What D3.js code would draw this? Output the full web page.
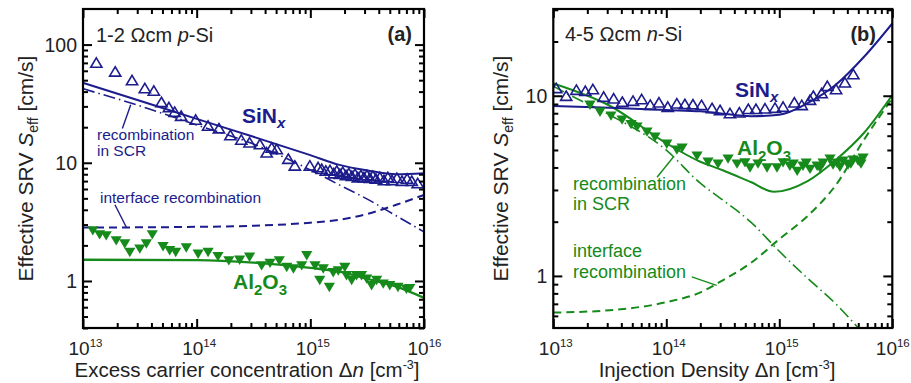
<!DOCTYPE html>
<html><head><meta charset="utf-8">
<script src="https://cdn.jsdelivr.net/npm/d3@7"></script>
<style>body{margin:0;background:#fff} svg{display:block;font-family:"Liberation Sans",Arial,Helvetica,sans-serif}</style>
</head><body><svg id="c" width="911" height="383"></svg>
<script>
// ---------------- DATA ----------------
const xTickValues = [1e13, 1e14, 1e15, 1e16];
const xTickExponents = ["13", "14", "15", "16"];
const xMinorTicks = [2e13,3e13,4e13,5e13,6e13,7e13,8e13,9e13,2e14,3e14,4e14,5e14,6e14,7e14,8e14,9e14,2e15,3e15,4e15,5e15,6e15,7e15,8e15,9e15];
const yTicksA = [1, 10, 100];
const yTickLabelsA = ["1", "10", "100"];
const yMinorA = [0.4,0.5,0.6,0.7,0.8,0.9,2,3,4,5,6,7,8,9,20,30,40,50,60,70,80,90];
const yTicksB = [1, 10];
const yTickLabelsB = ["1", "10"];
const yMinorB = [0.6,0.7,0.8,0.9,2,3,4,5,6,7,8,9,20,30];

// Panel (a): 1-2 Ohm cm p-Si  [Δn (cm^-3), S_eff (cm/s)]
const aSiNxMeas = [[1.31e13,69],[1.92e13,58],[2.7e13,49],[3.5e13,42],[4.2e13,40],[4.9e13,32],[5.7e13,29],[6.4e13,26.5],[7.3e13,24.5],[9.8e13,22.7],[1.26e14,20.2],[1.57e14,19.2],[1.98e14,16.8],[2.47e14,15.4],[2.92e14,14.6],[3.6e14,14.1],[4.13e14,12.0],[4.57e14,13.2],[5.06e14,12.8],[6.4e14,10.6],[7.3e14,9.3],[9.9e14,9.3],[1.17e15,9.0],[1.26e15,8.7],[1.37e15,8.4],[1.49e15,8.5],[1.61e15,8.0],[1.71e15,8.4],[1.82e15,7.9],[1.93e15,8.2],[2.06e15,7.7],[2.18e15,8.0],[2.32e15,7.6],[2.47e15,7.9],[2.62e15,7.4],[2.79e15,7.7],[2.96e15,7.4],[3.15e15,7.7],[3.34e15,7.3],[3.55e15,7.6],[3.78e15,7.2],[4.09e15,7.4],[4.44e15,7.0],[4.81e15,7.4],[5.22e15,7.0],[5.78e15,7.3],[6.4e15,6.9],[7.1e15,7.2],[7.8e15,6.9],[8.8e15,6.6]];
const aAl2O3Meas = [[1.22e13,2.71],[1.40e13,2.51],[1.60e13,2.46],[1.96e13,2.23],[2.33e13,2.10],[2.58e13,1.78],[3.16e13,1.90],[3.61e13,2.10],[4.07e13,2.51],[5.06e13,1.99],[5.79e13,1.84],[6.54e13,1.78],[8.1e13,1.94],[1.03e14,1.72],[1.26e14,1.78],[1.54e14,1.64],[1.92e14,1.51],[2.39e14,1.53],[2.92e14,1.62],[3.73e14,1.37],[4.42e14,1.44],[5.33e14,1.51],[6.2e14,1.33],[7.1e14,1.29],[8.4e14,1.37],[9.3e14,1.67],[1.10e15,1.37],[1.21e15,1.03],[1.30e15,1.29],[1.47e15,0.90],[1.59e15,1.20],[1.76e15,1.24],[2.01e15,1.33],[2.08e15,1.13],[2.31e15,1.03],[2.55e15,1.13],[2.82e15,1.13],[3.13e15,1.06],[3.46e15,0.93],[3.83e15,1.03],[4.38e15,0.96],[5.0e15,0.93],[5.9e15,0.90],[7.0e15,0.87],[7.5e15,0.88]];
const aSiNxFit = [[1e13,47.4],[3.16e13,33.5],[1e14,23.5],[3.16e14,16.6],[1e15,11.6],[1.8e15,9.6],[3.2e15,8.6],[5.7e15,8.0],[1e16,8.15]];
const aSCR = [[1e13,42.3],[3.16e13,30.3],[1e14,20.9],[3.16e14,14.4],[1e15,8.7],[1.8e15,6.5],[3.2e15,4.9],[5.7e15,3.56],[1e16,2.6]];
const aInterface = [[1e13,2.83],[1e14,2.87],[3.16e14,2.93],[1e15,3.11],[1.8e15,3.29],[3.2e15,3.7],[5.7e15,4.41],[1e16,5.35]];
const aAl2O3Fit = [[1e13,1.51],[1e14,1.50],[3.16e14,1.43],[1e15,1.29],[1.8e15,1.2],[3.2e15,1.04],[5.7e15,0.895],[1e16,0.72]];

// Panel (b): 4-5 Ohm cm n-Si
const bSiNxMeas = [[1.06e13,10.9],[1.30e13,9.87],[1.60e13,10.66],[1.92e13,10.5],[2.24e13,10.75],[2.79e13,9.75],[3.42e13,9.55],[4.08e13,9.14],[5.07e13,9.26],[6.05e13,9.46],[7.21e13,8.80],[8.61e13,9.07],[1.03e14,8.58],[1.24e14,8.96],[1.46e14,8.88],[1.72e14,8.85],[2.05e14,8.77],[2.54e14,8.44],[2.99e14,8.22],[3.66e14,7.91],[4.43e14,7.98],[5.32e14,8.34],[6.22e14,8.34],[7.47e14,8.40],[9.16e14,8.47],[1.08e15,8.58],[1.36e15,9.07],[1.58e15,8.77],[1.87e15,9.38],[2.00e15,9.87],[2.37e15,10.2],[2.66e15,11.2],[3.18e15,10.75],[3.81e15,11.7],[4.52e15,13.0]];
const bAl2O3Meas = [[2.11e13,8.99],[2.59e13,8.22],[3.24e13,7.82],[4.06e13,7.43],[4.87e13,7.01],[5.51e13,6.79],[6.75e13,6.37],[7.94e13,5.97],[1.01e14,5.46],[1.24e14,5.06],[1.38e14,5.19],[1.87e14,4.69],[2.34e14,4.34],[2.87e14,4.23],[3.52e14,4.51],[4.23e14,4.23],[4.97e14,4.30],[5.51e14,4.03],[6.48e14,4.23],[7.79e14,4.03],[9.54e14,4.03],[1.08e15,4.30],[1.24e15,4.12],[1.33e15,4.23],[1.44e15,3.86],[1.62e15,4.12],[1.73e15,4.28],[1.87e15,3.96],[2.16e15,4.12],[2.29e15,4.02],[2.44e15,4.28],[2.81e15,4.51],[2.99e15,4.18],[3.24e15,4.28],[3.44e15,4.07],[3.66e15,4.40],[4.06e15,4.18],[4.30e15,4.23],[4.49e15,4.45],[4.98e15,4.40],[5.28e15,4.23],[5.51e15,4.56]];
const bSiNxFit = [[1e13,8.77],[3.16e13,8.59],[1e14,8.33],[2e14,8.2],[3.16e14,7.95],[5.6e14,7.7],[1e15,7.85],[1.78e15,9.1],[3.16e15,11.5],[5.6e15,16.4],[1e16,25.2]];
const bAl2O3Fit = [[1e13,11.7],[3.16e13,8.8],[1e14,5.45],[2e14,4.3],[3.16e14,3.86],[5.6e14,3.32],[9e14,2.93],[1.78e15,3.36],[3.16e15,4.40],[5.6e15,6.21],[1e16,10.1]];
const bSCR = [[1e13,11.3],[1.5e13,9.87],[3.16e13,7.82],[1e14,4.99],[2e14,3.27],[3.16e14,2.64],[5.6e14,1.99],[1e15,1.37],[1.78e15,0.97],[3.16e15,0.70],[5.0e15,0.514]];
const bInterface = [[1e13,0.626],[3.16e13,0.645],[1e14,0.715],[2e14,0.81],[3.16e14,0.946],[5.6e14,1.18],[1e15,1.6],[1.78e15,2.15],[3.16e15,3.19],[5.6e15,5.68],[1e16,9.7]];

// annotation leader lines (data coordinates)
const aLeaderSCR = [[2.22e13,19.5],[2.63e13,31]];
const aLeaderInt = [[1.91e13,4.41],[2.42e13,2.82]];
const bLeaderSCR = [[8.28e13,3.53],[1.15e14,4.56]];
const bLeaderInt = [[1.68e14,0.987],[2.79e14,0.887]];

// ---------------- DRAW ----------------
const blue = "#1c1c8c", green = "#168a1a";
const svg = d3.select("#c");
const upTri = "M0,-5.8L5.6,3.6L-5.6,3.6Z";
const downTri = "M0,5.8L5.6,-3.6L-5.6,-3.6Z";

function panel(cfg) {
  const x = d3.scaleLog().domain([1e13, 1e16]).range([cfg.left, cfg.right]);
  const y = d3.scaleLog().domain(cfg.yDomain).range([cfg.bottom, cfg.top]);
  const g = svg.append("g");
  const clipId = "clip" + cfg.id;
  svg.append("clipPath").attr("id", clipId).append("rect")
    .attr("x", cfg.left).attr("y", cfg.top).attr("width", cfg.right - cfg.left).attr("height", cfg.bottom - cfg.top);

  const line = d3.line().x(d => x(d[0])).y(d => y(d[1])).curve(d3.curveMonotoneX);
  const plot = g.append("g").attr("clip-path", `url(#${clipId})`);

  cfg.lines.forEach(L => {
    plot.append("path").attr("d", line(L.data)).attr("fill", "none")
      .attr("stroke", L.color).attr("stroke-width", L.w)
      .attr("stroke-dasharray", L.dash || null);
  });
  plot.append("g").selectAll("path").data(cfg.up).join("path")
    .attr("d", upTri).attr("transform", d => `translate(${x(d[0])},${y(d[1])})`)
    .attr("fill", "none").attr("stroke", blue).attr("stroke-width", 1.6);
  plot.append("g").selectAll("path").data(cfg.down).join("path")
    .attr("d", downTri).attr("transform", d => `translate(${x(d[0])},${y(d[1])})`)
    .attr("fill", green).attr("stroke", "none");
  cfg.leaders.forEach(L => {
    g.append("path").attr("d", d3.line().x(d => x(d[0])).y(d => y(d[1]))(L.data))
      .attr("stroke", L.color).attr("stroke-width", 1.4).attr("fill", "none");
  });

  const mk = (axis, pos, vals, len) => {
    const a = g.append("g").attr("transform", pos)
      .call(axis.tickValues(vals).tickSizeInner(-len).tickSizeOuter(0).tickFormat(""));
    a.select(".domain").remove();
    a.selectAll("line").attr("stroke", "#000").attr("stroke-width", 2);
  };
  mk(d3.axisBottom(x), `translate(0,${cfg.bottom})`, xTickValues, 9);
  mk(d3.axisBottom(x), `translate(0,${cfg.bottom})`, xMinorTicks, 5);
  mk(d3.axisTop(x), `translate(0,${cfg.top})`, xTickValues, 9);
  mk(d3.axisTop(x), `translate(0,${cfg.top})`, xMinorTicks, 5);
  mk(d3.axisLeft(y), `translate(${cfg.left},0)`, cfg.yTicks, 9);
  mk(d3.axisLeft(y), `translate(${cfg.left},0)`, cfg.yMinor, 5);
  mk(d3.axisRight(y), `translate(${cfg.right},0)`, cfg.yTicks, 9);
  mk(d3.axisRight(y), `translate(${cfg.right},0)`, cfg.yMinor, 5);

  g.append("rect").attr("x", cfg.left).attr("y", cfg.top)
    .attr("width", cfg.right - cfg.left).attr("height", cfg.bottom - cfg.top)
    .attr("fill", "none").attr("stroke", "#000").attr("stroke-width", 2.2);

  xTickValues.forEach((v, i) => {
    const last = i === xTickValues.length - 1;
    const t = g.append("text").attr("x", x(v) + (last ? 0.5 : 2.5)).attr("y", 355).attr("text-anchor", "middle").attr("fill", "#222");
    t.append("tspan").attr("font-size", 19).text("10");
    t.append("tspan").attr("font-size", 11.5).attr("dy", -8).text(xTickExponents[i]);
  });
  cfg.yTicks.forEach((v, i) => {
    g.append("text").attr("x", cfg.left - 6).attr("y", y(v)).attr("dy", "0.36em")
      .attr("text-anchor", "end").attr("font-size", 19.5).attr("fill", "#222").text(cfg.yLabels[i]);
  });

  const yt = g.append("text").attr("transform", `translate(${cfg.yTitleX},${(cfg.top + cfg.bottom) / 2}) rotate(-90)`)
    .attr("text-anchor", "middle").attr("font-size", 21).attr("fill", "#222");
  yt.append("tspan").text("Effective SRV ");
  yt.append("tspan").attr("font-style", "italic").text("S");
  yt.append("tspan").attr("font-size", 14).attr("dy", 5).text("eff");
  yt.append("tspan").attr("dy", -5).text(" [cm/s]");

  const xt = g.append("text").attr("x", cfg.xTitleX).attr("y", 377)
    .attr("text-anchor", "middle").attr("font-size", 20.5).attr("fill", "#222");
  xt.append("tspan").text(cfg.xTitle);
  xt.append("tspan").attr("font-style", cfg.nItalic ? "italic" : "normal").text("n");
  xt.append("tspan").text(" [cm");
  xt.append("tspan").attr("font-size", 12.5).attr("dy", -8).text("-3");
  xt.append("tspan").attr("dy", 8).text("]");

  return { g, x, y };
}

function sub(parent, txt, size, dy) {
  parent.append("tspan").attr("font-size", size).attr("dy", dy).text(txt);
}

// ---- Panel (a)
const A = panel({
  id: "a", left: 83, right: 424, top: 9, bottom: 328, yDomain: [0.4, 200],
  yTicks: yTicksA, yMinor: yMinorA, yLabels: yTickLabelsA,
  yTitleX: 33, xTitleX: 247, xTitle: "Excess carrier concentration \u0394", nItalic: true,
  lines: [
    { data: aInterface, color: blue, w: 2, dash: "8,5" },
    { data: aSCR, color: blue, w: 1.6, dash: "12,4,1.5,4" },
    { data: aSiNxFit, color: blue, w: 2 },
    { data: aAl2O3Fit, color: green, w: 2.4 }
  ],
  up: aSiNxMeas, down: aAl2O3Meas,
  leaders: [{ data: aLeaderSCR, color: blue }, { data: aLeaderInt, color: blue }]
});
{
  const g = A.g;
  const t = g.append("text").attr("x", 96).attr("y", 42).attr("font-size", 20).attr("fill", "#222");
  t.append("tspan").text("1-2 \u03A9cm ");
  t.append("tspan").attr("font-style", "italic").text("p");
  t.append("tspan").text("-Si");
  g.append("text").attr("x", 412).attr("y", 41).attr("text-anchor", "end").attr("font-size", 20)
    .attr("font-weight", "bold").attr("fill", "#222").text("(a)");
  const s = g.append("text").attr("x", 242).attr("y", 123).attr("font-size", 21).attr("font-weight", "bold").attr("fill", blue);
  s.append("tspan").text("SiN");
  s.append("tspan").attr("font-style", "italic").attr("font-size", 15).attr("dy", 5).text("x");
  g.append("text").attr("x", 97).attr("y", 140).attr("font-size", 15.5).attr("fill", blue).text("recombination");
  g.append("text").attr("x", 97).attr("y", 156).attr("font-size", 15.5).attr("fill", blue).text("in SCR");
  g.append("text").attr("x", 100).attr("y", 203).attr("font-size", 15.5).attr("fill", blue).text("interface recombination");
  const al = g.append("text").attr("x", 233).attr("y", 289).attr("font-size", 21).attr("font-weight", "bold").attr("fill", green);
  al.append("tspan").text("Al");
  sub(al, "2", 15, 6); sub(al, "O", 21, -6); sub(al, "3", 15, 6);
}

// ---- Panel (b)
const B = panel({
  id: "b", left: 553.3, right: 892.3, top: 9, bottom: 328, yDomain: [0.514, 30.3],
  yTicks: yTicksB, yMinor: yMinorB, yLabels: yTickLabelsB,
  yTitleX: 508, xTitleX: 717, xTitle: "Injection Density \u0394", nItalic: false,
  lines: [
    { data: bInterface, color: green, w: 2, dash: "8,5" },
    { data: bSCR, color: green, w: 1.6, dash: "12,4,1.5,4" },
    { data: bAl2O3Fit, color: green, w: 2 },
    { data: bSiNxFit, color: blue, w: 2 }
  ],
  up: bSiNxMeas, down: bAl2O3Meas,
  leaders: [{ data: bLeaderSCR, color: green }, { data: bLeaderInt, color: green }]
});
{
  const g = B.g;
  const t = g.append("text").attr("x", 565).attr("y", 41).attr("font-size", 20).attr("fill", "#222");
  t.append("tspan").text("4-5 \u03A9cm ");
  t.append("tspan").attr("font-style", "italic").text("n");
  t.append("tspan").text("-Si");
  g.append("text").attr("x", 876).attr("y", 41).attr("text-anchor", "end").attr("font-size", 20)
    .attr("font-weight", "bold").attr("fill", "#222").text("(b)");
  const s = g.append("text").attr("x", 735).attr("y", 97).attr("font-size", 21).attr("font-weight", "bold").attr("fill", blue);
  s.append("tspan").text("SiN");
  s.append("tspan").attr("font-style", "italic").attr("font-size", 15).attr("dy", 5).text("x");
  const al = g.append("text").attr("x", 737).attr("y", 155).attr("font-size", 21).attr("font-weight", "bold").attr("fill", green);
  al.append("tspan").text("Al");
  sub(al, "2", 15, 6); sub(al, "O", 21, -6); sub(al, "3", 15, 6);
  g.append("text").attr("x", 573).attr("y", 190).attr("font-size", 18).attr("fill", green).text("recombination");
  g.append("text").attr("x", 573).attr("y", 210).attr("font-size", 18).attr("fill", green).text("in SCR");
  g.append("text").attr("x", 573).attr("y", 257).attr("font-size", 18).attr("fill", green).text("interface");
  g.append("text").attr("x", 573).attr("y", 278).attr("font-size", 18).attr("fill", green).text("recombination");
}
</script></body></html>
